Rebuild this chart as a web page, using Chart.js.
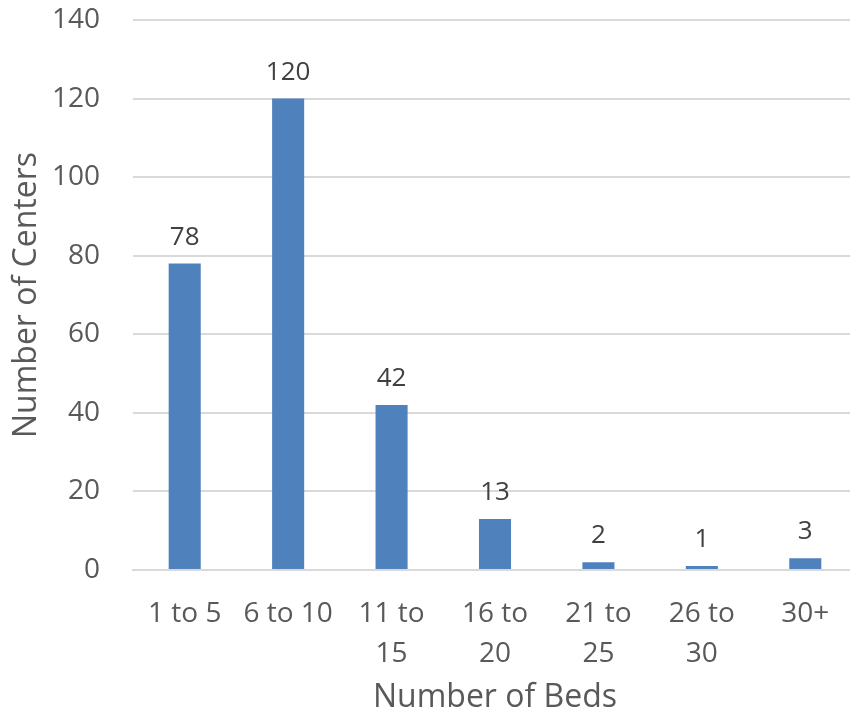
<!DOCTYPE html>
<html>
<head>
<meta charset="utf-8">
<script src="https://cdn.jsdelivr.net/npm/chart.js@4/dist/chart.umd.min.js"></script>
<style>
  html, body { margin: 0; padding: 0; background: #ffffff; overflow: hidden; }
  #wrap { width: 857px; height: 717px; }
</style>
</head>
<body>
<div id="wrap"><canvas id="chart" width="857" height="717"></canvas></div>
<script>
// Bed-count buckets and how many centers fall in each
const categories = [['1 to 5'], ['6 to 10'], ['11 to', '15'], ['16 to', '20'], ['21 to', '25'], ['26 to', '30'], ['30+']];
const centerCounts = [78, 120, 42, 13, 2, 1, 3];
const yTicks = [0, 20, 40, 60, 80, 100, 120, 140];

const FONT = '"Open Sans", "DejaVu Sans", sans-serif';

// Writes each bar's value just above its top
const valueLabels = {
  id: 'valueLabels',
  afterDatasetsDraw(chart) {
    const ctx = chart.ctx;
    const meta = chart.getDatasetMeta(0);
    ctx.save();
    ctx.font = '26px ' + FONT;
    ctx.fillStyle = '#404040';
    ctx.textAlign = 'center';
    ctx.textBaseline = 'alphabetic';
    meta.data.forEach((bar, i) => {
      ctx.fillText(String(centerCounts[i]), bar.x, bar.y - 19);
    });
    ctx.restore();
  }
};

new Chart(document.getElementById('chart'), {
  type: 'bar',
  data: {
    labels: categories,
    datasets: [{
      data: centerCounts,
      backgroundColor: '#4F81BD',
      borderWidth: 0,
      barPercentage: 0.31,
      categoryPercentage: 1.0
    }]
  },
  options: {
    responsive: false,
    animation: false,
    devicePixelRatio: 1,
    layout: { padding: { top: 20, left: 0, right: 0, bottom: 0 } },
    plugins: {
      legend: { display: false },
      tooltip: { enabled: false }
    },
    scales: {
      x: {
        grid: { display: false, drawTicks: false },
        border: { display: true, color: '#d9d9d9', width: 2 },
        ticks: {
          color: '#595959',
          font: { family: FONT, size: 28, lineHeight: 1.43 },
          padding: 24,
          maxRotation: 0,
          minRotation: 0,
          autoSkip: false
        },
        title: {
          display: true,
          text: 'Number of Beds',
          color: '#595959',
          font: { family: FONT, size: 32 },
          padding: { top: 4, bottom: 0 }
        },
        afterFit(scale) {
          scale.height = 147;
          scale.paddingLeft = 0;
          scale.paddingRight = 0;
        }
      },
      y: {
        min: 0,
        max: 140,
        afterBuildTicks(scale) { scale.ticks = yTicks.map(v => ({ value: v })); },
        grid: { color: '#d9d9d9', lineWidth: 2, drawTicks: false },
        border: { display: false },
        ticks: {
          color: '#595959',
          font: { family: FONT, size: 28 },
          padding: 33
        },
        title: {
          display: true,
          text: 'Number of Centers',
          color: '#595959',
          font: { family: FONT, size: 32 },
          padding: { top: 8, bottom: 0 }
        },
        afterFit(scale) {
          scale.width = 133;
          scale.paddingTop = 0;
          scale.paddingBottom = 0;
        }
      }
    }
  },
  plugins: [valueLabels]
});
</script>
</body>
</html>
